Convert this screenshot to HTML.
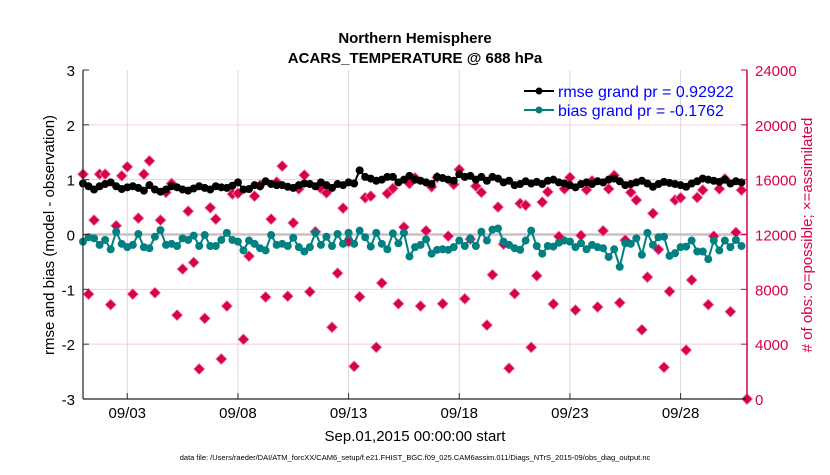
<!DOCTYPE html>
<html><head><meta charset="utf-8"><style>
body{margin:0;background:#fff;font-family:"Liberation Sans",sans-serif;}
svg text{font-family:"Liberation Sans",sans-serif;}
</style></head><body>
<svg id="chart" width="830" height="470" xmlns="http://www.w3.org/2000/svg">
<rect width="830" height="470" fill="#fff"/>
<g id="grid"></g>
<g id="series"></g>
<g id="axes"></g>
<text x="415" y="43" text-anchor="middle" font-size="15" font-weight="bold">Northern Hemisphere</text>
<text x="415" y="63" text-anchor="middle" font-size="15" font-weight="bold">ACARS_TEMPERATURE @ 688 hPa</text>
<text transform="translate(54,235) rotate(-90)" text-anchor="middle" font-size="15">rmse and bias (model - observation)</text>
<text transform="translate(812,235) rotate(-90)" text-anchor="middle" font-size="15" fill="#d6004f"># of obs: o=possible; ×=assimilated</text>
<text x="415" y="441" text-anchor="middle" font-size="15">Sep.01,2015 00:00:00 start</text>
<text x="415" y="460" text-anchor="middle" font-size="7.5">data file: /Users/raeder/DAI/ATM_forcXX/CAM6_setup/f.e21.FHIST_BGC.f09_025.CAM6assim.011/Diags_NTrS_2015-09/obs_diag_output.nc</text>
<g>
<line x1="524" y1="91" x2="554" y2="91" stroke="#000" stroke-width="2"/><circle cx="539" cy="91" r="3.5" fill="#000"/>
<text x="558" y="97" font-size="16" fill="#0000ff">rmse grand pr = 0.92922</text>
<line x1="524" y1="110" x2="554" y2="110" stroke="#008080" stroke-width="2"/><circle cx="539" cy="110" r="3.5" fill="#008080"/>
<text x="558" y="116" font-size="16" fill="#0000ff">bias grand pr = -0.1762</text>
</g>
</svg>
<script>
const tickDays = [2, 7, 12, 17, 22, 27];
const tickLabels = ["09/03","09/08","09/13","09/18","09/23","09/28"];
const leftTicks = [-3,-2,-1,0,1,2,3];
const rightTicks = [0,4000,8000,12000,16000,20000,24000];
const rmse = [0.93,0.88,0.82,0.88,0.92,0.95,0.88,0.83,0.86,0.88,0.85,0.80,0.90,0.82,0.78,0.82,0.88,0.86,0.82,0.80,0.84,0.88,0.85,0.82,0.88,0.86,0.85,0.89,0.95,0.82,0.83,0.90,0.88,0.97,0.92,0.90,0.90,0.87,0.85,0.90,0.93,
0.92,0.88,0.95,0.90,0.85,0.92,0.90,0.95,0.93,1.17,1.05,1.02,0.98,1.0,1.05,1.05,0.95,1.0,1.07,1.0,0.98,0.95,0.92,1.05,1.03,1.0,0.98,1.1,1.05,1.07,1.0,1.05,0.98,1.05,1.02,0.95,0.98,0.90,0.92,0.97,
0.93,0.96,0.92,0.98,1.0,0.95,0.93,0.90,0.86,0.92,0.95,0.92,0.97,0.95,1.0,1.02,0.97,0.90,0.92,0.95,0.98,0.93,0.87,0.92,0.96,0.94,0.92,0.90,0.87,0.93,0.97,1.02,1.0,0.98,0.96,1.0,0.93,0.97,0.95];
const bias = [-0.13,-0.05,-0.07,-0.19,-0.10,-0.27,0.05,-0.17,-0.23,-0.19,0.01,-0.23,-0.25,-0.04,0.08,-0.19,-0.17,-0.21,-0.07,-0.10,-0.02,-0.21,-0.01,-0.21,-0.21,-0.10,0.03,-0.10,-0.13,-0.29,-0.11,-0.17,-0.25,-0.29,-0.01,-0.19,-0.17,-0.21,-0.06,-0.23,-0.31,-0.23,
0.03,-0.19,-0.04,-0.21,0.01,-0.17,0.03,-0.17,0.07,-0.05,-0.22,0.03,-0.17,-0.27,0.02,-0.16,0.03,-0.40,-0.23,-0.19,-0.09,-0.35,-0.28,-0.27,-0.28,-0.23,-0.11,-0.21,-0.07,-0.21,0.05,-0.11,0.09,0.11,-0.13,-0.19,-0.25,-0.28,-0.11,
0.07,-0.21,-0.35,-0.21,-0.22,-0.15,-0.11,-0.13,-0.23,-0.16,-0.27,-0.19,-0.23,-0.25,-0.41,-0.27,-0.59,-0.16,-0.17,-0.07,-0.37,0.03,-0.19,-0.05,-0.04,-0.39,-0.34,-0.23,-0.22,-0.11,-0.31,-0.31,-0.45,-0.11,-0.29,-0.11,-0.23,-0.10,-0.21];
const nobs = [16400,7650,13050,16400,16400,6880,12640,16280,16940,7650,13190,16400,17370,7750,13050,15070,15720,6120,9480,13700,9960,2190,5880,13950,13120,2920,6780,14950,15000,4350,10420,14800,15600,7440,13120,15820,16990,7500,12850,15330,16330,7820,
12200,15360,15040,5230,9180,13920,11470,2380,7460,14680,14800,3770,8460,14990,15360,6950,12540,15720,16130,6780,12270,15480,16160,6950,11880,15650,16740,7310,11660,15530,15070,5390,9060,14000,11300,2240,7680,14260,14140,
3770,8990,14360,15110,6930,11860,15330,16160,6490,11930,15260,15910,6710,12270,15330,16310,7020,11590,15070,14510,5050,8890,13540,10910,2310,7850,14510,14680,3570,8680,14700,15240,6880,11880,15330,16060,6370,12150,15240,0];

const L=83,R=747,T=70,B=399,NS="http://www.w3.org/2000/svg";
const xDay=d=>L+(d/30)*(R-L);
const yL=v=>B-(v+3)/6*(B-T);
const yR=v=>B-v/24000*(B-T);
function mk(tag,attrs,parent){const e=document.createElementNS(NS,tag);for(const k in attrs)e.setAttribute(k,attrs[k]);parent.appendChild(e);return e;}
const grid=document.getElementById('grid'),ser=document.getElementById('series'),ax=document.getElementById('axes');
tickDays.forEach((d,i)=>{
  const g=mk('line',{x1:xDay(d),x2:xDay(d),y1:T,y2:B,stroke:'#d9d9d9','stroke-width':1},grid);
  
  
  mk('line',{x1:xDay(d),x2:xDay(d),y1:B,y2:B-6,stroke:'#333','stroke-width':1},ax);
  const t=mk('text',{x:xDay(d),y:418,'text-anchor':'middle','font-size':15},ax);
  t.textContent=tickLabels[i];
  
  
});
rightTicks.forEach(v=>{
  const y=yR(v);
  if(v>0&&v<24000){const g=mk('line',{x1:L,x2:R,y1:y,y2:y,stroke:'#f3cfdc','stroke-width':1},grid);
  
  }
  mk('line',{x1:R,x2:R-6,y1:y,y2:y,stroke:'#d6004f'},ax);
  const t=mk('text',{x:R+8,y:y+6,'font-size':15,fill:'#d6004f'},ax);
  t.textContent=v;
  
  
});
leftTicks.forEach(v=>{
  const y=yL(v);
  mk('line',{x1:L,x2:L+6,y1:y,y2:y,stroke:'#333'},ax);
  const t=mk('text',{x:L-8,y:y+6,'font-size':15,'text-anchor':'end'},ax);
  t.textContent=v;
  
  
});
const z=mk('line',{x1:L,x2:R,y1:yL(0),y2:yL(0),stroke:'#c8c0c4','stroke-width':2.5},grid);


// obs counts
nobs.forEach((v,i)=>{
  const x=xDay(i/4),y=yR(v),s=5.5;
  const p=mk('path',{d:`M${x} ${y-s}L${x+s} ${y}L${x} ${y+s}L${x-s} ${y}Z`,fill:'#d6004f',stroke:'#f08ab0','stroke-width':0.8},ser);
  
  
});
function line(vals,col,name){
  const pts=vals.map((v,i)=>xDay(i/4)+','+yL(v)).join(' ');
  const pl=mk('polyline',{points:pts,fill:'none',stroke:col,'stroke-width':2},ser);
  
  
  vals.forEach((v,i)=>{
    const c=mk('circle',{cx:xDay(i/4),cy:yL(v),r:4,fill:col},ser);
    
    
  });
}
line(rmse,'#000','rmse');
line(bias,'#008080','bias');
mk('line',{x1:L,x2:L,y1:T,y2:B,stroke:'#222','stroke-width':1.2},ax);
mk('line',{x1:L,x2:R,y1:B,y2:B,stroke:'#222','stroke-width':1.2},ax);
mk('line',{x1:R,x2:R,y1:T,y2:B,stroke:'#d6004f','stroke-width':1.5},ax);
</script>
</body></html>
